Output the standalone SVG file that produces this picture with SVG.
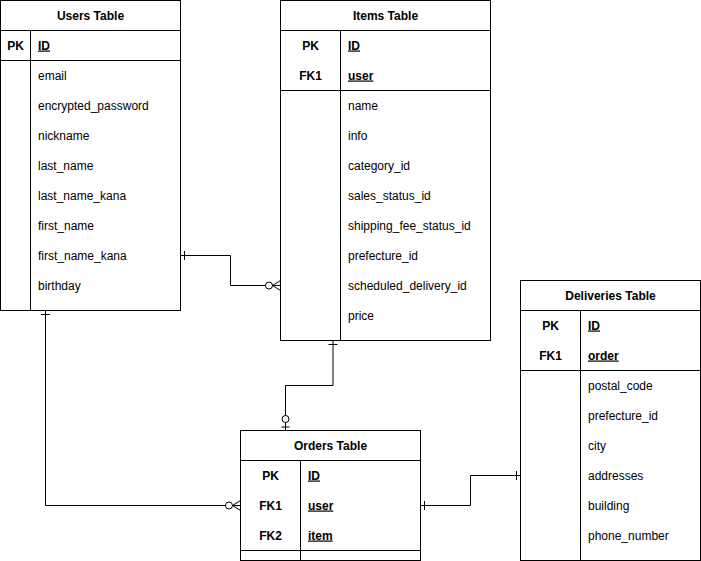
<svg xmlns="http://www.w3.org/2000/svg" width="701" height="561" viewBox="0 0 701 561">
<style>
.box{fill:#fff;stroke:#000;stroke-width:1}
.ln{fill:none;stroke:#000;stroke-width:1}
text{font-family:"Liberation Sans",Arial,Helvetica,sans-serif;font-size:12px;fill:#000}
.t{font-weight:bold;text-anchor:middle}
.k{font-weight:bold;text-anchor:middle}
.u{font-weight:bold;text-decoration:underline}
.conn{fill:none;stroke:#000;stroke-width:1}
</style>
<defs>
<marker id="one" viewBox="-16 -8 18 16" refX="0" refY="0" markerWidth="18" markerHeight="16" markerUnits="userSpaceOnUse" orient="auto-start-reverse" overflow="visible">
<path d="M-4,-4.5 V4.5" fill="none" stroke="#000" stroke-width="1"/>
</marker>
<marker id="zeroMany" viewBox="-16 -8 18 16" refX="0" refY="0" markerWidth="18" markerHeight="16" markerUnits="userSpaceOnUse" orient="auto-start-reverse" overflow="visible">
<circle cx="-11.5" cy="0" r="3.5" fill="#fff" stroke="#000" stroke-width="1"/>
<path d="M-8,0 L0,-5 M-8,0 L0,0 M-8,0 L0,5" fill="none" stroke="#000" stroke-width="1"/>
</marker>
<marker id="zeroOne" viewBox="-16 -8 18 16" refX="0" refY="0" markerWidth="18" markerHeight="16" markerUnits="userSpaceOnUse" orient="auto-start-reverse" overflow="visible">
<circle cx="-11.5" cy="0" r="3.5" fill="#fff" stroke="#000" stroke-width="1"/>
<path d="M-3.5,-4 V4" fill="none" stroke="#000" stroke-width="1"/>
</marker>
</defs>
<rect x="0" y="0" width="701" height="561" fill="#fff"/>

<g id="connectors">
<path class="conn" d="M180.5,255.5 H230.5 V285.5 H280.5" marker-start="url(#one)" marker-end="url(#zeroMany)"/>
<path class="conn" d="M333,340.5 V385.5 H285.5 V430.5" marker-start="url(#one)" marker-end="url(#zeroOne)"/>
<path class="conn" d="M45.5,310.5 V505.5 H240.5" marker-start="url(#one)" marker-end="url(#zeroMany)"/>
<path class="conn" d="M420.5,505.5 H470.5 V475.5 H520.5" marker-start="url(#one)" marker-end="url(#one)"/>
</g>

<g id="users">
<rect class="box" x="0.5" y="0.5" width="180" height="310"/>
<path class="ln" d="M0.5,30.5 H180.5 M0.5,60.5 H180.5 M30.5,30.5 V310.5"/>
<text class="t" x="90.5" y="19.5">Users Table</text>
<text class="k" x="15.5" y="49.5">PK</text>
<text class="u" x="38" y="49.5">ID</text>
<text x="38" y="79.5">email</text>
<text x="38" y="109.5">encrypted_password</text>
<text x="38" y="139.5">nickname</text>
<text x="38" y="169.5">last_name</text>
<text x="38" y="199.5">last_name_kana</text>
<text x="38" y="229.5">first_name</text>
<text x="38" y="259.5">first_name_kana</text>
<text x="38" y="289.5">birthday</text>
</g>

<g id="items">
<rect class="box" x="280.5" y="0.5" width="210" height="340"/>
<path class="ln" d="M280.5,30.5 H490.5 M280.5,90.5 H490.5 M340.5,30.5 V340.5"/>
<text class="t" x="385.5" y="19.5">Items Table</text>
<text class="k" x="310.5" y="49.5">PK</text>
<text class="u" x="348" y="49.5">ID</text>
<text class="k" x="310.5" y="79.5">FK1</text>
<text class="u" x="348" y="79.5">user</text>
<text x="348" y="109.5">name</text>
<text x="348" y="139.5">info</text>
<text x="348" y="169.5">category_id</text>
<text x="348" y="199.5">sales_status_id</text>
<text x="348" y="229.5">shipping_fee_status_id</text>
<text x="348" y="259.5">prefecture_id</text>
<text x="348" y="289.5">scheduled_delivery_id</text>
<text x="348" y="319.5">price</text>
</g>

<g id="orders">
<rect class="box" x="240.5" y="430.5" width="180" height="130"/>
<path class="ln" d="M240.5,460.5 H420.5 M240.5,550.5 H420.5 M300.5,460.5 V560.5"/>
<text class="t" x="330.5" y="449.5">Orders Table</text>
<text class="k" x="270.5" y="479.5">PK</text>
<text class="u" x="308" y="479.5">ID</text>
<text class="k" x="270.5" y="509.5">FK1</text>
<text class="u" x="308" y="509.5">user</text>
<text class="k" x="270.5" y="539.5">FK2</text>
<text class="u" x="308" y="539.5">item</text>
</g>

<g id="deliveries">
<rect class="box" x="520.5" y="280.5" width="180" height="280"/>
<path class="ln" d="M520.5,310.5 H700.5 M520.5,370.5 H700.5 M580.5,310.5 V560.5"/>
<text class="t" x="610.5" y="299.5">Deliveries Table</text>
<text class="k" x="550.5" y="329.5">PK</text>
<text class="u" x="588" y="329.5">ID</text>
<text class="k" x="550.5" y="359.5">FK1</text>
<text class="u" x="588" y="359.5">order</text>
<text x="588" y="389.5">postal_code</text>
<text x="588" y="419.5">prefecture_id</text>
<text x="588" y="449.5">city</text>
<text x="588" y="479.5">addresses</text>
<text x="588" y="509.5">building</text>
<text x="588" y="539.5">phone_number</text>
</g>
</svg>
